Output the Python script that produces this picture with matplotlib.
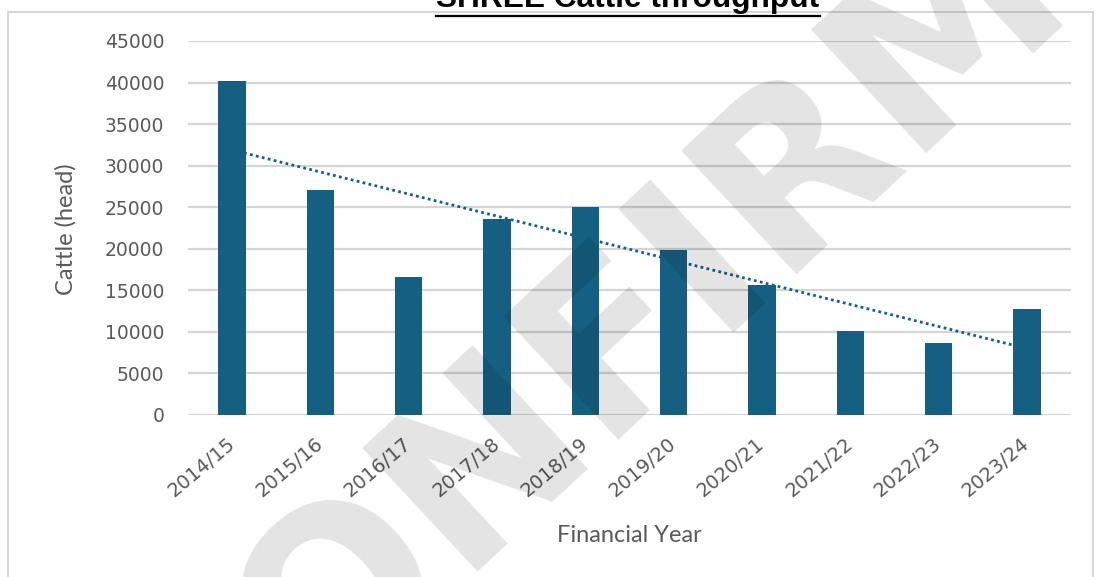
import numpy as np
import matplotlib as mpl
mpl.use('Agg')
import matplotlib.pyplot as plt
from matplotlib.patches import Rectangle
from matplotlib.lines import Line2D
import matplotlib.transforms as mtransforms

# Data
years = ['2014/15', '2015/16', '2016/17', '2017/18', '2018/19',
         '2019/20', '2020/21', '2021/22', '2022/23', '2023/24']
cattle = [40200, 27100, 16600, 23600, 25000, 19800, 15600, 10100, 8700, 12700]
yticks = [0, 5000, 10000, 15000, 20000, 25000, 30000, 35000, 40000, 45000]

bar_col = '#156082'
txt_col = '#595959'
grid_col = '#d5d5d5'

fig = plt.figure(figsize=(10.97, 5.77), dpi=100)
ax = fig.add_axes([0.1714, 0.2808, 0.8049, 0.6482])

x = np.arange(len(years))
ax.bar(x, cattle, width=0.31, color=bar_col, zorder=2)

# linear trendline, like Excel
coef = np.polyfit(x, cattle, 1)
ax.plot(x, np.polyval(coef, x), color=bar_col, lw=2.0,
        linestyle=(0, (1, 1.2)), zorder=3)

ax.set_xlim(-0.5, len(years) - 0.5)
ax.set_ylim(0, 45000)
ax.set_yticks(yticks)
ax.set_yticklabels([str(v) for v in yticks])
ax.set_xticks(x)
ax.set_xticklabels(years, rotation=40, ha='right', rotation_mode='anchor')

ax.grid(axis='y', color=grid_col, lw=1.6, zorder=0)
ax.set_axisbelow(True)
for s in ['top', 'right', 'left', 'bottom']:
    ax.spines[s].set_visible(False)
ax.tick_params(axis='both', length=0, colors=txt_col, labelsize=13.5)
ax.tick_params(axis='x', labelsize=14, pad=14)
ax.tick_params(axis='y', pad=17)

# nudge the rotated labels a touch left
shift = mtransforms.ScaledTranslation(-6 / 100, 0, fig.dpi_scale_trans)
for lbl in ax.get_xticklabels():
    lbl.set_transform(lbl.get_transform() + shift)

fig.text(629 / 1097, 1 - 535 / 577, 'Financial Year', ha='center', va='center',
         color=txt_col, fontsize=17, family='Lato')
fig.text(66 / 1097, 1 - 229 / 577, 'Cattle (head)', ha='center', va='center',
         rotation=90, color=txt_col, fontsize=17, family='Lato')

# chart frame
fig.patches.append(Rectangle((8 / 1097, -0.02), 1085 / 1097, 1 - 12 / 577 + 0.02,
                             transform=fig.transFigure, fill=False,
                             edgecolor='#d0d0d0', lw=1.2))

# title, cut off at top of the page
title = fig.text(628 / 1097, 1 - 7.5 / 577, 'SHREE Cattle throughput', ha='center',
                 va='baseline', fontsize=22.8, weight='bold',
                 family='Liberation Sans', color='black')
fig.canvas.draw()
bb = title.get_window_extent()
uy = (bb.y0 - 1.5) / fig.bbox.height
fig.lines.append(Line2D([bb.x0 / fig.bbox.width, bb.x1 / fig.bbox.width], [uy, uy],
                        transform=fig.transFigure, color='black', lw=1.6))

# watermark
fig.text(621 / 1097, 1 - 418 / 577, 'UNCONFIRMED', ha='center', va='baseline',
         rotation=43, rotation_mode='anchor', fontsize=166, weight='bold',
         family='DejaVu Sans', color='black', alpha=0.11, zorder=10)

plt.savefig('out.png', dpi=100)
